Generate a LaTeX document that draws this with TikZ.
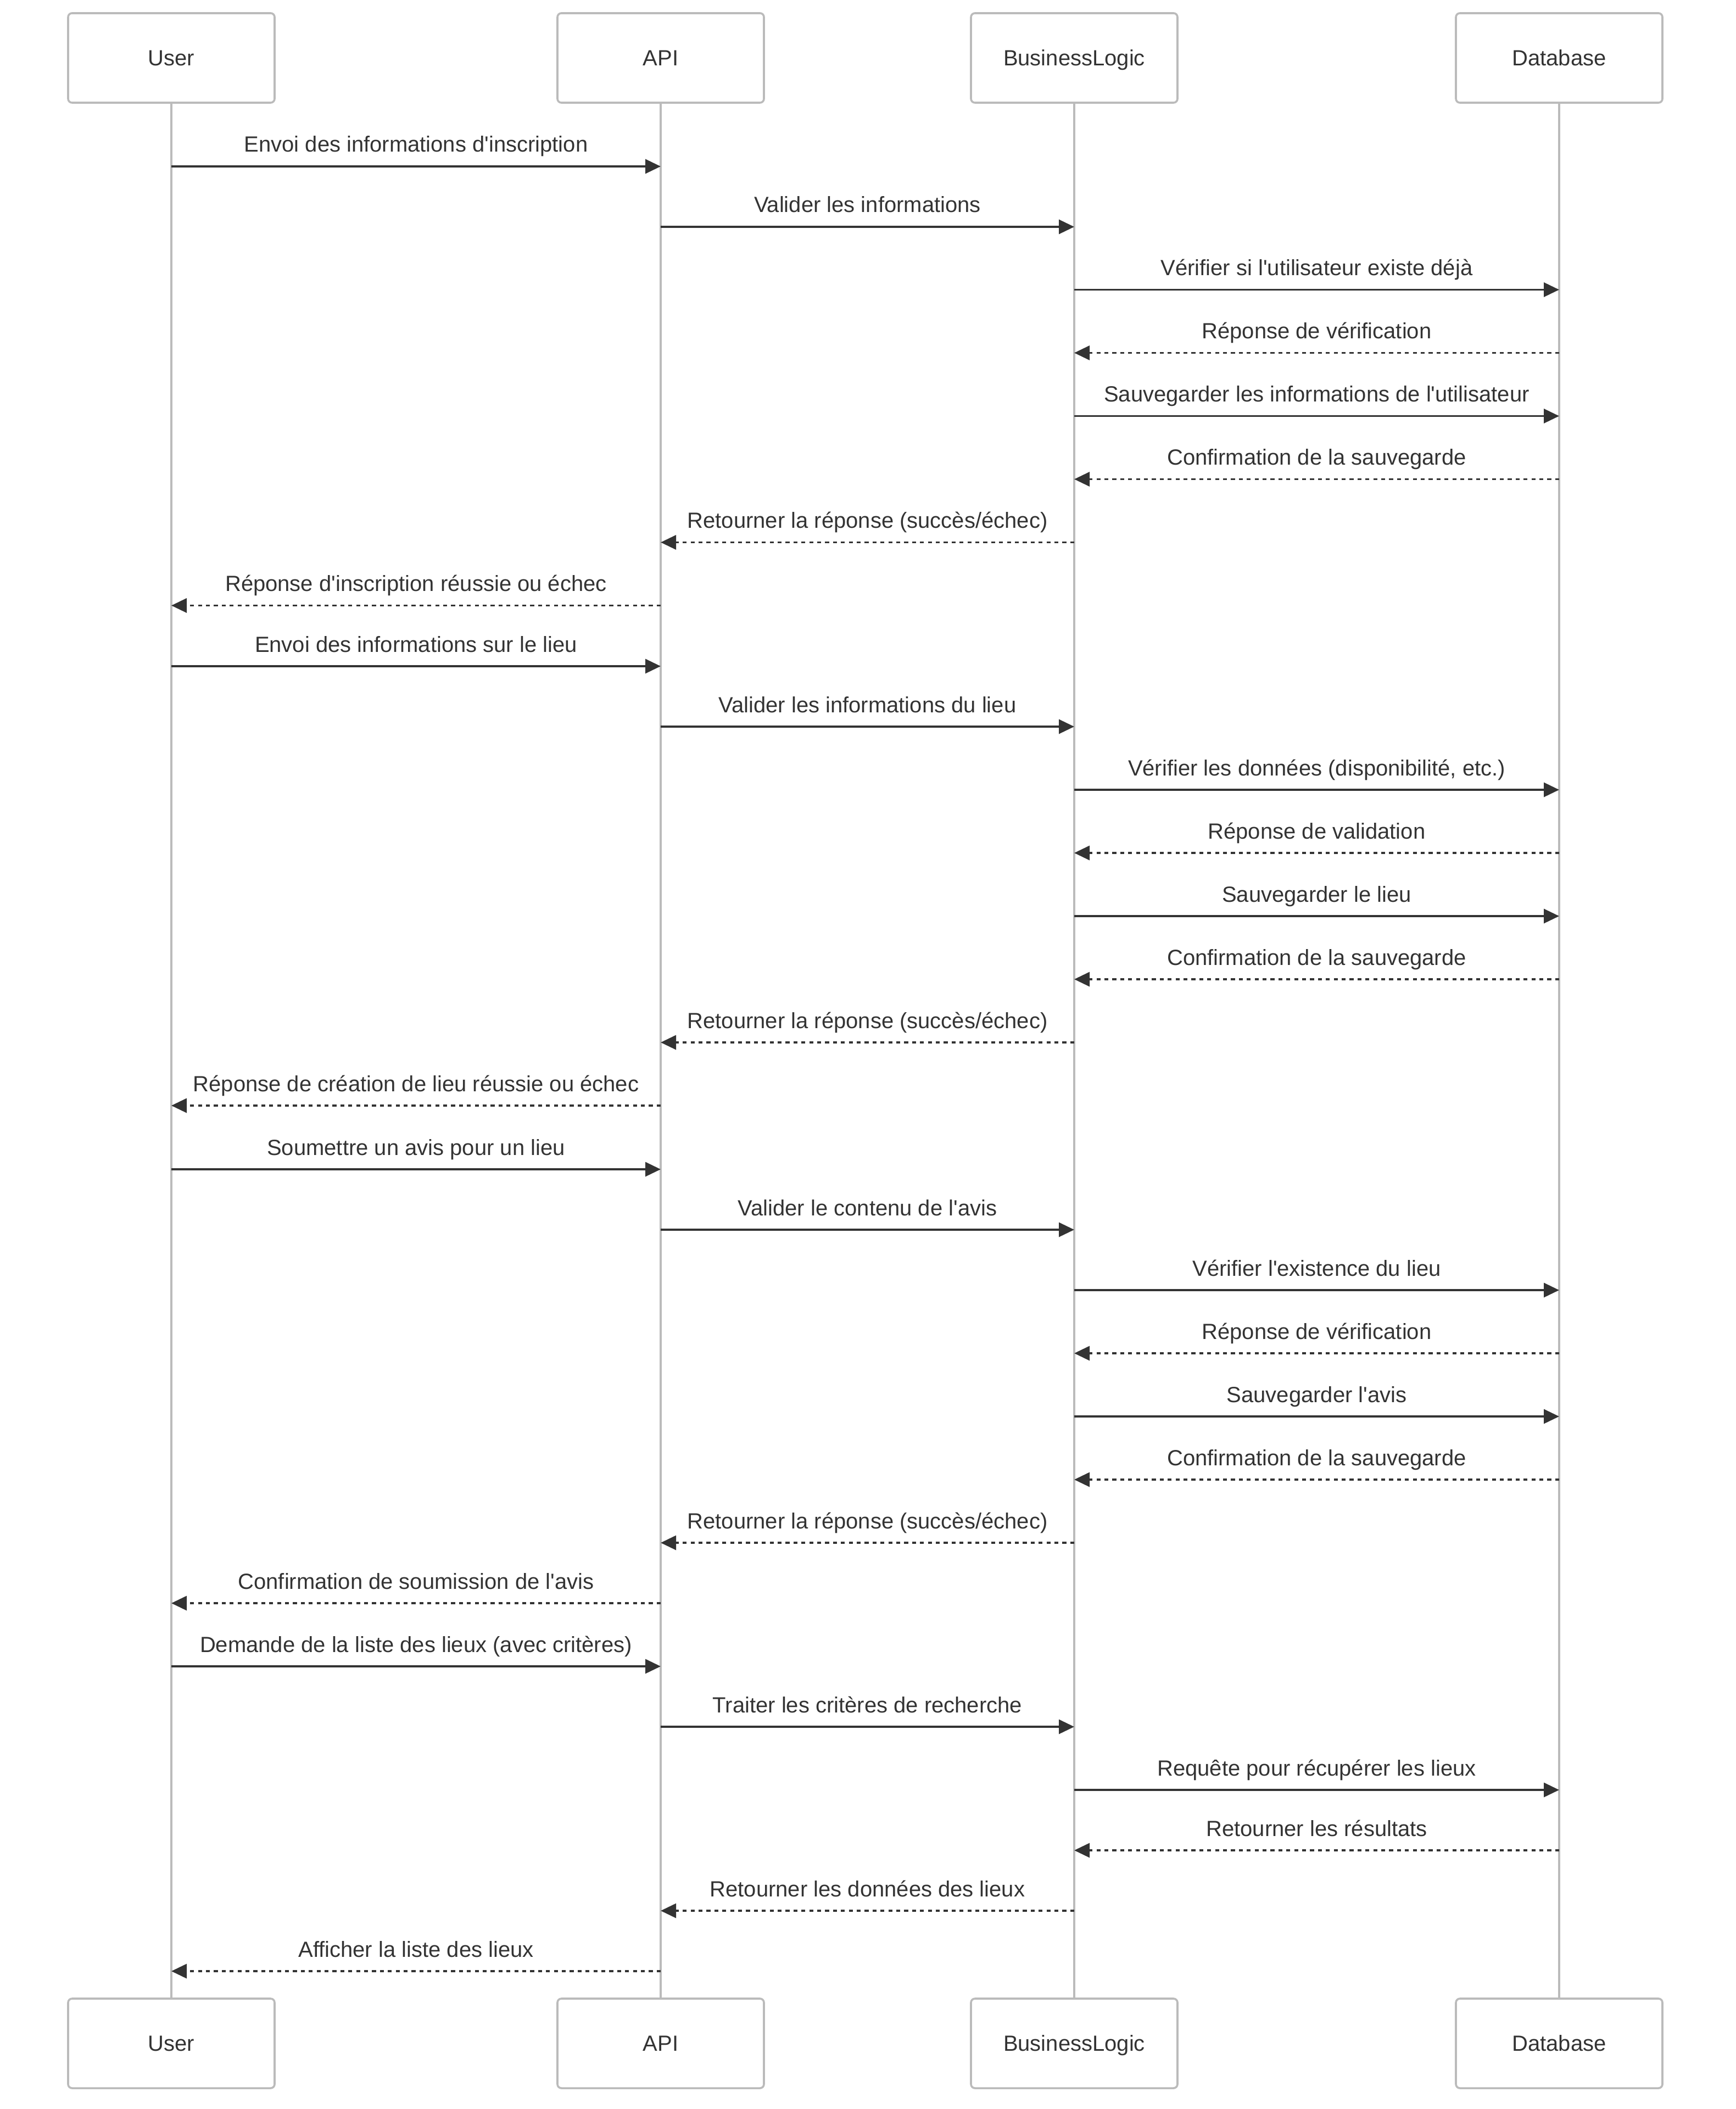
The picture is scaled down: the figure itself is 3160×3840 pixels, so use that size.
\documentclass[tikz,border=0pt]{standalone}
\usepackage{fontspec}
\setmainfont{Liberation Sans}[Ligatures=TeXOff]
\usetikzlibrary{arrows.meta}

\definecolor{ink}{HTML}{333333}
\definecolor{rule}{HTML}{BBBBBB}

\tikzset{
    actor/.style={draw=rule, line width=0.9pt, fill=white, rounded corners=1.8pt,
        minimum width=94pt, minimum height=40.75pt, inner sep=0pt, text=ink,
        text height=7.2pt, text depth=0pt, font=\fontsize{10}{12}\selectfont},
    lifeline/.style={draw=rule, line width=1.2pt},
    call/.style={draw=ink, line width=0.9pt, -{Triangle[length=7pt,width=6.5pt]}},
    reply/.style={call, dash pattern=on 1.8pt off 1.8pt},
    lbl/.style={anchor=base, yshift=6.5pt, inner sep=0pt, text=ink,
        font=\fontsize{10}{12}\selectfont}
}

\begin{document}
\begin{tikzpicture}[x=0.25pt, y=-0.25pt]
    \useasboundingbox (0,0) rectangle (3160,3840);

    % participants, top and bottom
    \node[actor] (usrT) at (312,105.5) {User};
    \node[actor] (apiT) at (1203,105.5) {API};
    \node[actor] (blT)  at (1956,105.5) {BusinessLogic};
    \node[actor] (dbT)  at (2839,105.5) {Database};
    \node[actor] (usrB) at (312,3720.5) {User};
    \node[actor] (apiB) at (1203,3720.5) {API};
    \node[actor] (blB)  at (1956,3720.5) {BusinessLogic};
    \node[actor] (dbB)  at (2839,3720.5) {Database};

    % lifelines
    \draw[lifeline] (usrT) -- (usrB);
    \draw[lifeline] (apiT) -- (apiB);
    \draw[lifeline] (blT) -- (blB);
    \draw[lifeline] (dbT) -- (dbB);

    % inscription
    \draw[call]  (usrT |- 0,303)    -- node[lbl] {Envoi des informations d'inscription} (apiT |- 0,303);
    \draw[call]  (apiT |- 0,413)    -- node[lbl] {Valider les informations} (blT |- 0,413);
    \draw[call]  (blT |- 0,527.5)   -- node[lbl] {Vérifier si l'utilisateur existe déjà} (dbT |- 0,527.5);
    \draw[reply] (dbT |- 0,642.5)   -- node[lbl] {Réponse de vérification} (blT |- 0,642.5);
    \draw[call]  (blT |- 0,757.5)   -- node[lbl] {Sauvegarder les informations de l'utilisateur} (dbT |- 0,757.5);
    \draw[reply] (dbT |- 0,872.5)   -- node[lbl] {Confirmation de la sauvegarde} (blT |- 0,872.5);
    \draw[reply] (blT |- 0,987.5)   -- node[lbl] {Retourner la réponse (succès/échec)} (apiT |- 0,987.5);
    \draw[reply] (apiT |- 0,1102.5) -- node[lbl] {Réponse d'inscription réussie ou échec} (usrT |- 0,1102.5);

    % lieu
    \draw[call]  (usrT |- 0,1213)   -- node[lbl] {Envoi des informations sur le lieu} (apiT |- 0,1213);
    \draw[call]  (apiT |- 0,1323)   -- node[lbl] {Valider les informations du lieu} (blT |- 0,1323);
    \draw[call]  (blT |- 0,1438)    -- node[lbl] {Vérifier les données (disponibilité, etc.)} (dbT |- 0,1438);
    \draw[reply] (dbT |- 0,1553)    -- node[lbl] {Réponse de validation} (blT |- 0,1553);
    \draw[call]  (blT |- 0,1668)    -- node[lbl] {Sauvegarder le lieu} (dbT |- 0,1668);
    \draw[reply] (dbT |- 0,1783)    -- node[lbl] {Confirmation de la sauvegarde} (blT |- 0,1783);
    \draw[reply] (blT |- 0,1898)    -- node[lbl] {Retourner la réponse (succès/échec)} (apiT |- 0,1898);
    \draw[reply] (apiT |- 0,2013)   -- node[lbl] {Réponse de création de lieu réussie ou échec} (usrT |- 0,2013);

    % avis
    \draw[call]  (usrT |- 0,2129)   -- node[lbl] {Soumettre un avis pour un lieu} (apiT |- 0,2129);
    \draw[call]  (apiT |- 0,2239)   -- node[lbl] {Valider le contenu de l'avis} (blT |- 0,2239);
    \draw[call]  (blT |- 0,2349)    -- node[lbl] {Vérifier l'existence du lieu} (dbT |- 0,2349);
    \draw[reply] (dbT |- 0,2464)    -- node[lbl] {Réponse de vérification} (blT |- 0,2464);
    \draw[call]  (blT |- 0,2579)    -- node[lbl] {Sauvegarder l'avis} (dbT |- 0,2579);
    \draw[reply] (dbT |- 0,2694)    -- node[lbl] {Confirmation de la sauvegarde} (blT |- 0,2694);
    \draw[reply] (blT |- 0,2809)    -- node[lbl] {Retourner la réponse (succès/échec)} (apiT |- 0,2809);
    \draw[reply] (apiT |- 0,2919)   -- node[lbl] {Confirmation de soumission de l'avis} (usrT |- 0,2919);

    % recherche
    \draw[call]  (usrT |- 0,3034)   -- node[lbl] {Demande de la liste des lieux (avec critères)} (apiT |- 0,3034);
    \draw[call]  (apiT |- 0,3144)   -- node[lbl] {Traiter les critères de recherche} (blT |- 0,3144);
    \draw[call]  (blT |- 0,3259)    -- node[lbl] {Requête pour récupérer les lieux} (dbT |- 0,3259);
    \draw[reply] (dbT |- 0,3369)    -- node[lbl] {Retourner les résultats} (blT |- 0,3369);
    \draw[reply] (blT |- 0,3479)    -- node[lbl] {Retourner les données des lieux} (apiT |- 0,3479);
    \draw[reply] (apiT |- 0,3589)   -- node[lbl] {Afficher la liste des lieux} (usrT |- 0,3589);
\end{tikzpicture}
\end{document}
